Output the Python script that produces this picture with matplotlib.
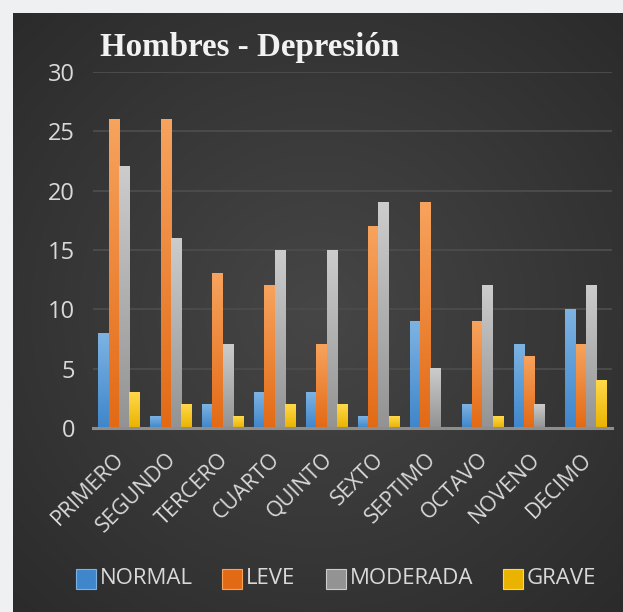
import numpy as np
import matplotlib
matplotlib.use('Agg')
import matplotlib.pyplot as plt
import matplotlib.transforms as mtransforms
from matplotlib.colors import LinearSegmentedColormap
from matplotlib.patches import Rectangle

# datos
cursos = ['PRIMERO', 'SEGUNDO', 'TERCERO', 'CUARTO', 'QUINTO',
          'SEXTO', 'SEPTIMO', 'OCTAVO', 'NOVENO', 'DECIMO']
normal = [8, 1, 2, 3, 3, 1, 9, 2, 7, 10]
leve = [26, 26, 13, 12, 7, 17, 19, 9, 6, 7]
moderada = [22, 16, 7, 15, 15, 19, 5, 12, 2, 12]
grave = [3, 2, 1, 2, 2, 1, 0, 1, 0, 4]
series = ['NORMAL', 'LEVE', 'MODERADA', 'GRAVE']
valores = [normal, leve, moderada, grave]

# colores (arriba, abajo) de cada degradado
colores = [('#7db3e3', '#3f86cb'),
           ('#f7a35e', '#e36a15'),
           ('#cccccc', '#939393'),
           ('#ffd94a', '#eab300')]

W, H = 623, 612
fig = plt.figure(figsize=(W / 100, H / 100), dpi=100)
fig.patch.set_facecolor('#eff0f2')

# panel oscuro con degradado radial
bg = fig.add_axes([13 / W, 0, (W - 13) / W, (H - 13) / H], zorder=-5)
yy, xx = np.mgrid[-1:1:300j, -1:1:300j]
r = np.sqrt(xx ** 2 + yy ** 2) / np.sqrt(2)
bgcm = LinearSegmentedColormap.from_list('bg', ['#464646', '#2b2b2b'])
bg.imshow(r, cmap=bgcm, aspect='auto', extent=(0, 1, 0, 1), interpolation='bilinear')
bg.set_axis_off()

ax = fig.add_axes([93 / W, (H - 428) / H, (612 - 93) / W, (428 - 72) / H])
ax.set_facecolor('none')

x = np.arange(len(cursos))
ancho = 0.198
grad = np.linspace(1, 0, 100).reshape(-1, 1)
for k, (nombre, vals) in enumerate(zip(series, valores)):
    top, bot = colores[k]
    cm = LinearSegmentedColormap.from_list(nombre, [bot, top])
    pos = x + (k - 1.5) * ancho
    barras = ax.bar(pos, vals, ancho, color=top, zorder=3, linewidth=0)
    for b in barras:
        h = b.get_height()
        if h <= 0:
            continue
        x0 = b.get_x()
        ax.imshow(grad, cmap=cm, aspect='auto', zorder=4, interpolation='bilinear',
                  extent=(x0, x0 + b.get_width(), 0, h))

ax.set_xlim(-0.5, 9.5)
ax.set_ylim(0, 30)

ax.set_yticks([0, 5, 10, 15, 20, 25, 30])
for v in [5, 10, 15, 20, 25, 30]:
    ax.axhline(v, color='#4a4a4a', lw=1.5, zorder=1)
ax.axhline(0, color='#8e8e8e', lw=2.2, zorder=5, clip_on=False)

for s in ax.spines.values():
    s.set_visible(False)

ax.set_xticks(x)
ax.set_xticklabels(cursos, rotation=45, ha='right', va='top', rotation_mode='anchor',
                   family='Open Sans', fontsize=15.5, color='#d9d9d9')
ax.tick_params(axis='x', length=0, pad=15)
desplaza = mtransforms.ScaledTranslation(-5 / 100, 0, fig.dpi_scale_trans)
for t in ax.get_xticklabels():
    t.set_transform(t.get_transform() + desplaza)
ax.tick_params(axis='y', length=0, pad=13, labelcolor='#d9d9d9', labelsize=17)
for t in ax.get_yticklabels():
    t.set_family('Open Sans')

fig.text(100 / W, 1 - 56 / H, 'Hombres - Depresión', family='Liberation Serif',
         weight='bold', fontsize=23.8, color='#f2f2f2', va='baseline', ha='left')

# leyenda
xs_cuadro = [76, 222, 326, 503]
for k, nombre in enumerate(series):
    top, bot = colores[k]
    x0 = xs_cuadro[k]
    fig.patches.append(Rectangle((x0 / W, 1 - 589 / H), 20 / W, 20 / H,
                                 transform=fig.transFigure, facecolor=bot,
                                 edgecolor=top, lw=0.8))
    fig.text((x0 + 24) / W, 1 - 579 / H, nombre, family='Open Sans', fontsize=16,
             color='#d9d9d9', va='center', ha='left')

fig.savefig('out.png', dpi=100, facecolor=fig.get_facecolor())
